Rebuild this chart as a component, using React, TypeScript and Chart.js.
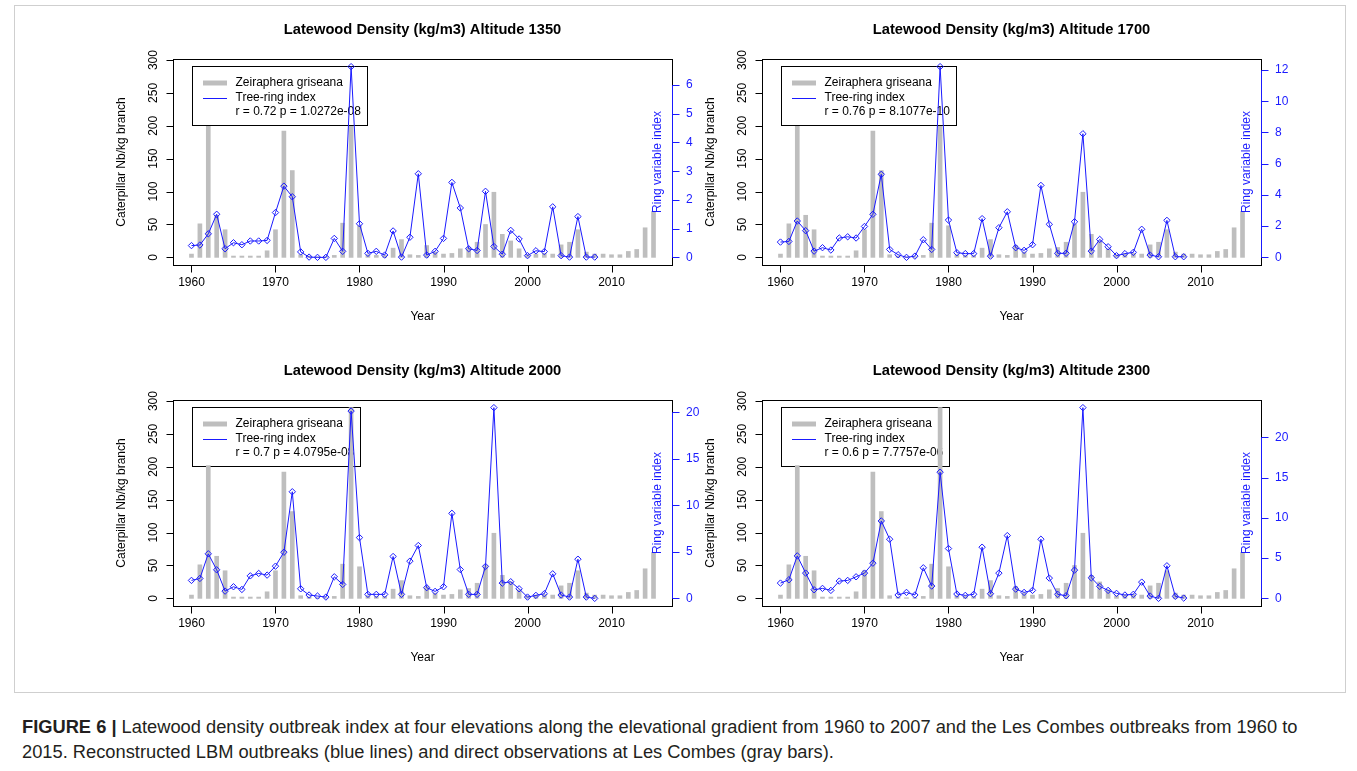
import React, { useEffect, useRef } from 'react';
import { Chart, registerables } from 'chart.js';
Chart.register(...registerables);

const FONT = '"Liberation Sans", Arial, Helvetica, sans-serif';
const BLUE = '#1a1aff';
const GRAY = '#bebebe';

// Caterpillar observations at Les Combes (Nb/kg branch), 1960-2015
const YEARS_BARS = [
  1960, 1961, 1962, 1963, 1964, 1965, 1966, 1967, 1968, 1969,
  1970, 1971, 1972, 1973, 1974, 1975, 1976, 1977, 1978, 1979,
  1980, 1981, 1982, 1983, 1984, 1985, 1986, 1987, 1988, 1989,
  1990, 1991, 1992, 1993, 1994, 1995, 1996, 1997, 1998, 1999,
  2000, 2001, 2002, 2003, 2004, 2005, 2006, 2007, 2008, 2009,
  2010, 2011, 2012, 2013, 2014, 2015,
];
const CATERPILLAR = [
  5, 51, 202, 64, 42, 2, 2, 2, 2, 10,
  42, 192, 132, 4, 2, 1, 1, 3, 52, 290,
  48, 4, 3, 3, 14, 27, 4, 3, 18, 8,
  5, 6, 13, 15, 23, 50, 99, 35, 25, 13,
  4, 5, 6, 5, 19, 23, 42, 8, 5, 5,
  4, 4, 9, 12, 45, 70,
];

// Tree-ring index (ring variable index), 1960-2008
const YEARS_RING = [
  1960, 1961, 1962, 1963, 1964, 1965, 1966, 1967, 1968, 1969,
  1970, 1971, 1972, 1973, 1974, 1975, 1976, 1977, 1978, 1979,
  1980, 1981, 1982, 1983, 1984, 1985, 1986, 1987, 1988, 1989,
  1990, 1991, 1992, 1993, 1994, 1995, 1996, 1997, 1998, 1999,
  2000, 2001, 2002, 2003, 2004, 2005, 2006, 2007, 2008,
];
const RING_1350 = [
  0.41, 0.43, 0.82, 1.50, 0.30, 0.51, 0.44, 0.57, 0.57, 0.59,
  1.56, 2.48, 2.11, 0.19, 0.01, 0.0, 0.0, 0.66, 0.21, 6.64,
  1.17, 0.14, 0.21, 0.08, 0.92, 0.01, 0.70, 2.91, 0.08, 0.21,
  0.66, 2.61, 1.72, 0.30, 0.24, 2.30, 0.38, 0.11, 0.94, 0.64,
  0.06, 0.23, 0.20, 1.76, 0.06, 0.01, 1.42, 0.01, 0.01,
];
const RING_1700 = [
  0.98, 1.02, 2.33, 1.71, 0.40, 0.62, 0.47, 1.24, 1.32, 1.24,
  1.98, 2.76, 5.32, 0.51, 0.17, 0.0, 0.08, 1.13, 0.51, 12.22,
  2.39, 0.30, 0.24, 0.24, 2.48, 0.08, 1.90, 2.92, 0.62, 0.45,
  0.81, 4.61, 2.12, 0.26, 0.26, 2.28, 7.92, 0.40, 1.15, 0.68,
  0.11, 0.24, 0.32, 1.80, 0.15, 0.04, 2.37, 0.04, 0.04,
];
const RING_2000 = [
  1.93, 2.14, 4.79, 3.07, 0.78, 1.25, 0.96, 2.42, 2.68, 2.50,
  3.46, 4.96, 11.46, 1.03, 0.36, 0.25, 0.14, 2.32, 1.50, 20.13,
  6.53, 0.43, 0.43, 0.43, 4.50, 0.43, 4.00, 5.68, 1.15, 0.75,
  1.25, 9.14, 3.10, 0.43, 0.43, 3.43, 20.5, 1.64, 1.79, 1.03,
  0.14, 0.32, 0.50, 2.64, 0.36, 0.14, 4.21, 0.14, 0.0,
];
const RING_2300 = [
  1.90, 2.31, 5.28, 3.14, 1.07, 1.24, 0.99, 2.15, 2.23, 2.68,
  3.14, 4.37, 9.62, 7.35, 0.42, 0.74, 0.42, 3.80, 1.53, 15.68,
  6.19, 0.54, 0.37, 0.50, 6.36, 0.58, 3.14, 7.80, 1.15, 0.74,
  0.99, 7.35, 2.52, 0.50, 0.33, 3.51, 23.7, 2.56, 1.49, 0.99,
  0.62, 0.42, 0.50, 2.02, 0.29, 0.0, 4.05, 0.25, 0.04,
];

const X_TICKS = [1960, 1970, 1980, 1990, 2000, 2010];
const LEFT_TICKS = [0, 50, 100, 150, 200, 250, 300];
const RIGHT_TICKS_1350 = [0, 1, 2, 3, 4, 5, 6];
const RIGHT_TICKS_1700 = [0, 2, 4, 6, 8, 10, 12];
const RIGHT_TICKS_2000 = [0, 5, 10, 15, 20];
const RIGHT_TICKS_2300 = [0, 5, 10, 15, 20];

const TITLES = [
  'Latewood Density (kg/m3) Altitude 1350',
  'Latewood Density (kg/m3) Altitude 1700',
  'Latewood Density (kg/m3) Altitude 2000',
  'Latewood Density (kg/m3) Altitude 2300',
];
const STATS = [
  'r = 0.72 p = 1.0272e-08',
  'r = 0.76 p = 8.1077e-10',
  'r = 0.7 p = 4.0795e-08',
  'r = 0.6 p = 7.7757e-06',
];
const LEGEND_LABELS = ['Zeiraphera griseana', 'Tree-ring index'];
const Y_LABEL = 'Caterpillar Nb/kg branch';
const Y2_LABEL = 'Ring variable index';
const X_LABEL = 'Year';

const PAD = { left: 73, top: 49, right: 45, bottom: 75 };
const CW = 617;
const CH = 330;
const LEG_ROWS = [16.5, 31, 45.5];

type PanelProps = {
  title: string;
  ring: number[];
  rightTicks: number[];
  stats: string;
  legendUnder: boolean;
  left: number;
  top: number;
};

function legendOrigin(chart: any) {
  const ca = chart.chartArea;
  return { x0: Math.round(ca.left + 18.5) + 0.5, y0: Math.round(ca.top + 7) + 0.5 };
}

function drawLegendBox(chart: any, stats: string) {
  const ctx = chart.ctx as CanvasRenderingContext2D;
  const { x0, y0 } = legendOrigin(chart);
  ctx.save();
  ctx.font = `12px ${FONT}`;
  const texts = [LEGEND_LABELS[0], LEGEND_LABELS[1], stats];
  const tw = Math.max(...texts.map((t) => ctx.measureText(t).width));
  const w = Math.round(43.5 + tw + 6);
  const h = 59;
  ctx.fillStyle = '#ffffff';
  ctx.fillRect(x0, y0, w, h);
  ctx.strokeStyle = '#000000';
  ctx.lineWidth = 1;
  ctx.strokeRect(x0, y0, w, h);
  ctx.fillStyle = '#000000';
  ctx.textAlign = 'left';
  ctx.textBaseline = 'middle';
  texts.forEach((t, i) => ctx.fillText(t, x0 + 43, y0 + LEG_ROWS[i]));
  ctx.restore();
}

function drawLegendSamples(chart: any) {
  const ctx = chart.ctx as CanvasRenderingContext2D;
  const { x0, y0 } = legendOrigin(chart);
  ctx.save();
  ctx.lineCap = 'butt';
  ctx.strokeStyle = GRAY;
  ctx.lineWidth = 5;
  ctx.beginPath();
  ctx.moveTo(x0 + 10.5, y0 + LEG_ROWS[0]);
  ctx.lineTo(x0 + 34.5, y0 + LEG_ROWS[0]);
  ctx.stroke();
  ctx.strokeStyle = BLUE;
  ctx.lineWidth = 1;
  ctx.beginPath();
  ctx.moveTo(x0 + 10.5, Math.round(y0 + LEG_ROWS[1]) + 0.5);
  ctx.lineTo(x0 + 34.5, Math.round(y0 + LEG_ROWS[1]) + 0.5);
  ctx.stroke();
  ctx.restore();
}

function rotatedText(ctx: CanvasRenderingContext2D, t: string, x: number, y: number) {
  ctx.save();
  ctx.translate(x, y);
  ctx.rotate(-Math.PI / 2);
  ctx.textAlign = 'center';
  ctx.textBaseline = 'middle';
  ctx.fillText(t, 0, 0);
  ctx.restore();
}

function Panel(props: PanelProps) {
  const ref = useRef<HTMLCanvasElement>(null);
  useEffect(() => {
    const canvas = ref.current;
    if (!canvas) return;
    const barMax = Math.max(...CATERPILLAR);
    const barMin = Math.min(0, ...CATERPILLAR);
    const ringMax = Math.max(...props.ring);
    const ringMin = Math.min(0, ...props.ring);
    const xFirst = YEARS_BARS[0];
    const xLast = YEARS_BARS[YEARS_BARS.length - 1];
    const xr = xLast - xFirst;

    const deco = {
      id: 'rdeco',
      beforeDatasetsDraw(chart: any) {
        if (props.legendUnder) drawLegendBox(chart, props.stats);
      },
      afterDatasetDraw(chart: any, args: any) {
        if (args.index !== 0) return;
        if (!props.legendUnder) drawLegendBox(chart, props.stats);
        drawLegendSamples(chart);
      },
      afterDraw(chart: any) {
        const ctx = chart.ctx as CanvasRenderingContext2D;
        const ca = chart.chartArea;
        const xs = chart.scales.x;
        const ys = chart.scales.y;
        const y2 = chart.scales.y2;
        ctx.save();
        // box
        ctx.strokeStyle = '#000000';
        ctx.lineWidth = 1;
        ctx.strokeRect(ca.left + 0.5, ca.top + 0.5, ca.right - ca.left, ca.bottom - ca.top);

        // title
        ctx.fillStyle = '#000000';
        ctx.font = `bold 14.7px ${FONT}`;
        ctx.textAlign = 'center';
        ctx.textBaseline = 'middle';
        ctx.fillText(props.title, (ca.left + ca.right) / 2, ca.top - 29);

        // left axis
        ctx.font = `12px ${FONT}`;
        ctx.strokeStyle = '#000000';
        ctx.beginPath();
        const lx = ca.left + 0.5;
        ctx.moveTo(lx, Math.round(ys.getPixelForValue(LEFT_TICKS[0])) + 0.5);
        ctx.lineTo(lx, Math.round(ys.getPixelForValue(LEFT_TICKS[LEFT_TICKS.length - 1])) + 0.5);
        LEFT_TICKS.forEach((v) => {
          const py = Math.round(ys.getPixelForValue(v)) + 0.5;
          ctx.moveTo(lx - 7, py);
          ctx.lineTo(lx, py);
        });
        ctx.stroke();
        LEFT_TICKS.forEach((v) => {
          rotatedText(ctx, String(v), ca.left - 19, ys.getPixelForValue(v));
        });
        rotatedText(ctx, Y_LABEL, ca.left - 51.5, (ca.top + ca.bottom) / 2);

        // bottom axis
        const by = ca.bottom + 0.5;
        ctx.beginPath();
        X_TICKS.forEach((v) => {
          const px = Math.round(xs.getPixelForValue(v)) + 0.5;
          ctx.moveTo(px, by);
          ctx.lineTo(px, by + 7);
        });
        ctx.stroke();
        ctx.textAlign = 'center';
        ctx.textBaseline = 'middle';
        X_TICKS.forEach((v) => {
          ctx.fillText(String(v), xs.getPixelForValue(v), ca.bottom + 17.5);
        });
        ctx.fillText(X_LABEL, (ca.left + ca.right) / 2, ca.bottom + 51.5);

        // right axis (blue)
        const rx = ca.right + 0.5;
        ctx.strokeStyle = BLUE;
        ctx.fillStyle = BLUE;
        ctx.beginPath();
        const rt = props.rightTicks;
        ctx.moveTo(rx, Math.round(y2.getPixelForValue(rt[0])) + 0.5);
        ctx.lineTo(rx, Math.round(y2.getPixelForValue(rt[rt.length - 1])) + 0.5);
        rt.forEach((v) => {
          const py = Math.round(y2.getPixelForValue(v)) + 0.5;
          ctx.moveTo(rx, py);
          ctx.lineTo(rx + 7, py);
        });
        ctx.stroke();
        ctx.textAlign = 'left';
        rt.forEach((v) => {
          ctx.fillText(String(v), ca.right + 14, y2.getPixelForValue(v));
        });
        rotatedText(ctx, Y2_LABEL, ca.right - 14, (ca.top + ca.bottom) / 2);
        ctx.restore();
      },
    };

    const chart = new Chart(canvas, {
      type: 'bar',
      data: {
        datasets: [
          {
            type: 'bar',
            data: YEARS_BARS.map((x, i) => ({ x, y: CATERPILLAR[i] })),
            backgroundColor: GRAY,
            borderWidth: 0,
            barThickness: 4,
            xAxisID: 'x',
            yAxisID: 'y',
            order: 2,
          } as any,
          {
            type: 'line',
            data: YEARS_RING.map((x, i) => ({ x, y: props.ring[i] })),
            borderColor: BLUE,
            borderWidth: 1,
            pointStyle: 'rectRot',
            pointRadius: 3.2,
            pointBorderColor: BLUE,
            pointBackgroundColor: 'rgba(0,0,0,0)',
            pointBorderWidth: 1,
            tension: 0,
            fill: false,
            xAxisID: 'x',
            yAxisID: 'y2',
            order: 1,
            clip: false,
          } as any,
        ],
      },
      options: {
        responsive: false,
        animation: false,
        devicePixelRatio: 1,
        events: [],
        layout: { padding: PAD },
        plugins: { legend: { display: false }, tooltip: { enabled: false }, title: { display: false } },
        scales: {
          x: { type: 'linear', min: xFirst - 0.04 * xr, max: xLast + 0.04 * xr, offset: false, display: false },
          y: { type: 'linear', min: barMin - 0.04 * (barMax - barMin), max: barMax + 0.04 * (barMax - barMin), display: false },
          y2: { type: 'linear', position: 'right', min: ringMin - 0.04 * (ringMax - ringMin), max: ringMax + 0.04 * (ringMax - ringMin), display: false },
        },
      } as any,
      plugins: [deco],
    });
    return () => chart.destroy();
  }, []);
  return (
    <canvas
      ref={ref}
      width={CW}
      height={CH}
      style={{ position: 'absolute', left: props.left, top: props.top, width: CW, height: CH }}
    />
  );
}

export default function App() {
  return (
    <div style={{ position: 'fixed', left: 0, top: 0, width: 1357, height: 771, background: '#ffffff', overflow: 'hidden' }}>
      <div style={{ position: 'absolute', left: 14, top: 5, width: 1330, height: 686, border: '1px solid #cfcfcf' }} />
      <Panel title={TITLES[0]} ring={RING_1350} rightTicks={RIGHT_TICKS_1350} stats={STATS[0]} legendUnder={false} left={100} top={10} />
      <Panel title={TITLES[1]} ring={RING_1700} rightTicks={RIGHT_TICKS_1700} stats={STATS[1]} legendUnder={false} left={689} top={10} />
      <Panel title={TITLES[2]} ring={RING_2000} rightTicks={RIGHT_TICKS_2000} stats={STATS[2]} legendUnder={true} left={100} top={351} />
      <Panel title={TITLES[3]} ring={RING_2300} rightTicks={RIGHT_TICKS_2300} stats={STATS[3]} legendUnder={true} left={689} top={351} />
      <div
        style={{
          position: 'absolute',
          left: 22,
          top: 714,
          fontFamily: FONT,
          fontSize: 18.3,
          lineHeight: '25px',
          color: '#231f20',
          whiteSpace: 'nowrap',
        }}
      >
        <b>FIGURE 6 |</b> Latewood density outbreak index at four elevations along the elevational gradient from 1960 to 2007 and the Les Combes outbreaks from 1960 to
        <br />
        2015. Reconstructed LBM outbreaks (blue lines) and direct observations at Les Combes (gray bars).
      </div>
    </div>
  );
}
